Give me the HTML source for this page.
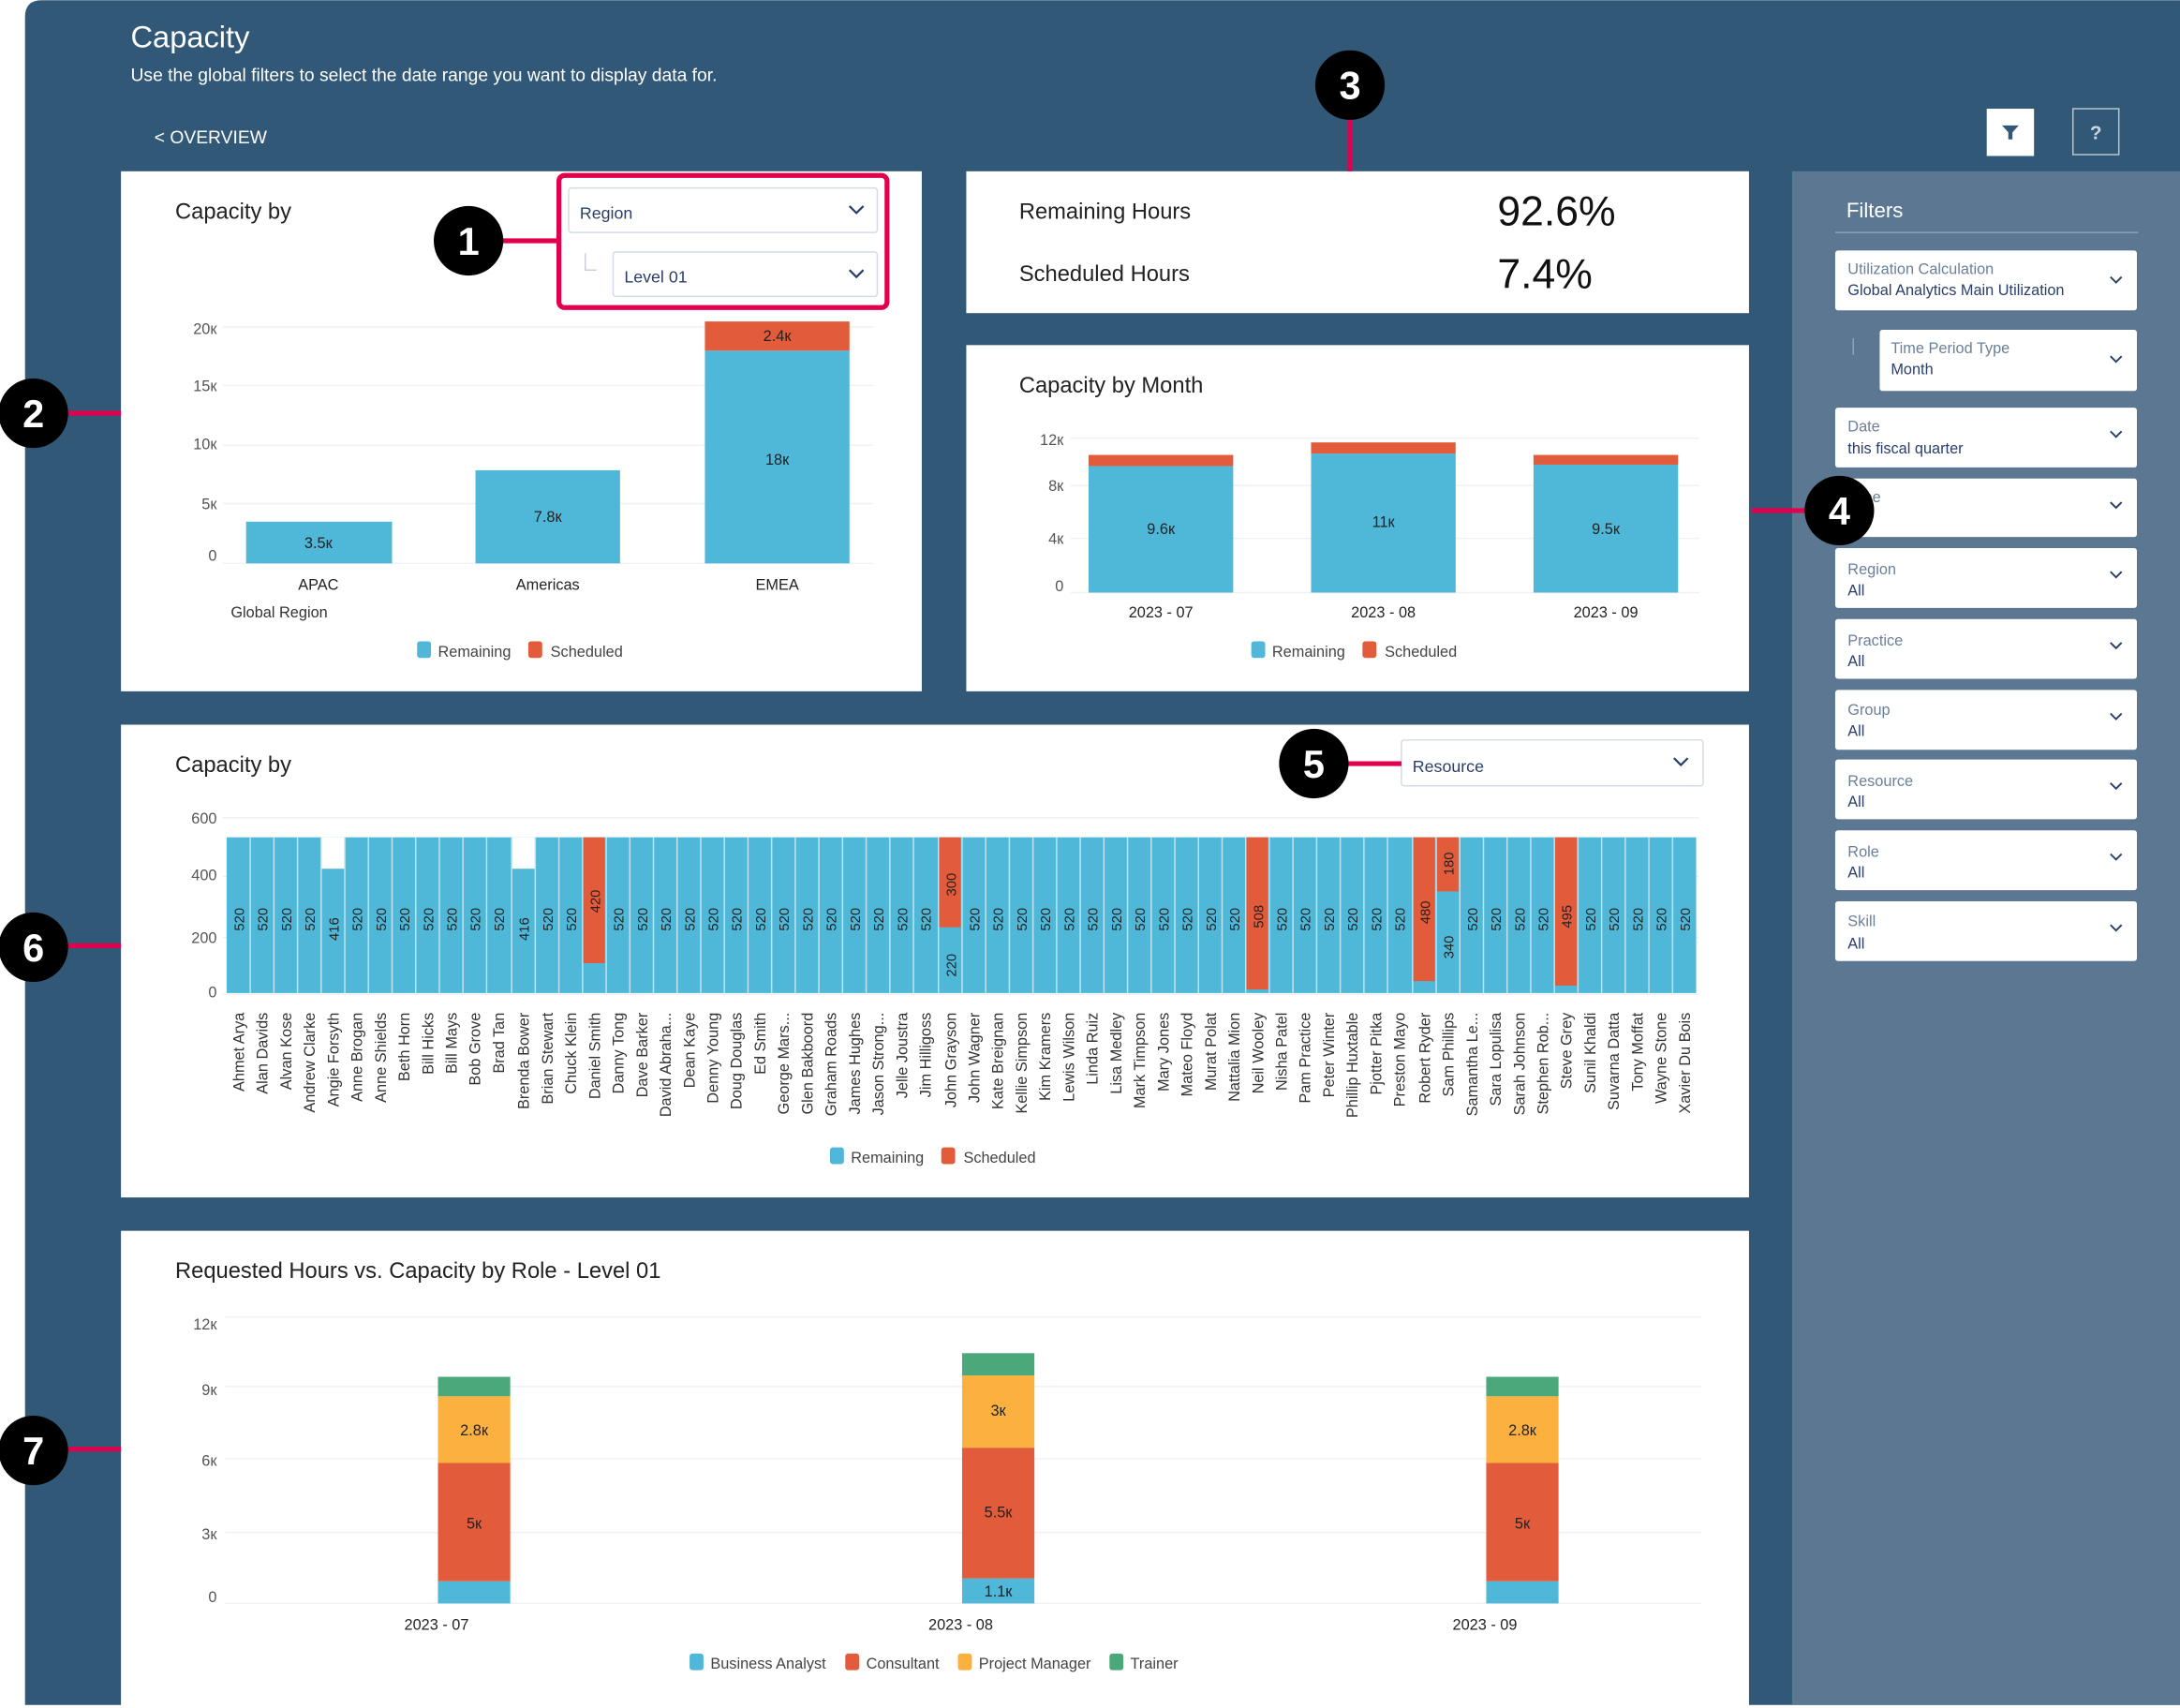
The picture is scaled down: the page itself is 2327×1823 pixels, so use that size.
<!DOCTYPE html>
<html><head><meta charset="utf-8"><style>
html,body{margin:0;padding:0;background:#fff;width:2327px;height:1823px;overflow:hidden}
svg{display:block}
text{font-family:"Liberation Sans",sans-serif}
</style></head><body>
<svg width="2327" height="1823" viewBox="0 0 1568 1228" xmlns="http://www.w3.org/2000/svg">
<rect width="1568" height="1228" fill="#fff"/>
<path d="M18,1226 V12 Q18,0 30,0 H1568 V1226 Z" fill="#325878"/>
<rect x="1289" y="123" width="279" height="1103" fill="#5b7791"/>
<text x="94" y="34" font-size="22" fill="#fff">Capacity</text>
<text x="94" y="58" font-size="13" fill="#fff">Use the global filters to select the date range you want to display data for.</text>
<text x="111" y="103" font-size="13" fill="#fff">&lt; OVERVIEW</text>
<rect x="1429" y="78" width="34" height="34" fill="#fff"/>
<path d="M1440,90 h12 l-4.5,5 v5 h-3 v-5 z" fill="#325878"/>
<rect x="1491" y="78" width="33" height="33" fill="none" stroke="#b8c6d3" stroke-width="1"/>
<text x="1507.5" y="100" font-size="14" font-weight="bold" fill="#cdd7e0" text-anchor="middle">?</text>

<rect x="87" y="123" width="576" height="374" fill="#fff"/>
<text x="126" y="157" font-size="16" fill="#222">Capacity by</text>
<rect x="402" y="126" width="236" height="95" rx="4" fill="none" stroke="#e0004d" stroke-width="3.5"/>
<rect x="409" y="135" width="222" height="32" rx="2" fill="#fff" stroke="#d4dbe5"/>
<text x="417" y="157" font-size="12" fill="#2a3e6a">Region</text>
<path d="M611,148 l5,5 l5,-5" fill="none" stroke="#2a3e6a" stroke-width="1.5"/>
<path d="M421,182 v12 h8" fill="none" stroke="#ccd" stroke-width="1"/>
<rect x="441" y="181" width="190" height="32" rx="2" fill="#fff" stroke="#d4dbe5"/>
<text x="449" y="203" font-size="12" fill="#2a3e6a">Level 01</text>
<path d="M611,194 l5,5 l5,-5" fill="none" stroke="#2a3e6a" stroke-width="1.5"/>
<g stroke="#eef1f5" stroke-width="1">
<line x1="160" y1="235" x2="628" y2="235"/><line x1="160" y1="277" x2="628" y2="277"/><line x1="160" y1="320" x2="628" y2="320"/><line x1="160" y1="362" x2="628" y2="362"/><line x1="160" y1="405" x2="628" y2="405"/></g>
<g font-size="11" fill="#555" text-anchor="end"><text x="156" y="240">20к</text><text x="156" y="281">15к</text><text x="156" y="323">10к</text><text x="156" y="366">5к</text><text x="156" y="403">0</text></g>
<rect x="177" y="375" width="105" height="30" fill="#4fb8d8"/>
<rect x="342" y="338" width="104" height="67" fill="#4fb8d8"/>
<rect x="507" y="252" width="104" height="153" fill="#4fb8d8"/>
<rect x="507" y="231" width="104" height="21" fill="#e25b3a"/>
<g font-size="11" fill="#222" text-anchor="middle"><text x="229" y="394">3.5к</text><text x="394" y="375">7.8к</text><text x="559" y="334">18к</text><text x="559" y="245">2.4к</text>
<text x="229" y="424">APAC</text><text x="394" y="424">Americas</text><text x="559" y="424">EMEA</text></g>
<text x="166" y="444" font-size="11" fill="#333">Global Region</text>
<rect x="300" y="461" width="10" height="12" rx="2" fill="#4fb8d8"/><text x="315" y="472" font-size="11" fill="#444">Remaining</text>
<rect x="380" y="461" width="10" height="12" rx="2" fill="#e25b3a"/><text x="396" y="472" font-size="11" fill="#444">Scheduled</text>

<rect x="695" y="123" width="563" height="102" fill="#fff"/>
<text x="733" y="157" font-size="16" fill="#222">Remaining Hours</text>
<text x="733" y="202" font-size="16" fill="#222">Scheduled Hours</text>
<text x="1077" y="162" font-size="30" fill="#111">92.6%</text>
<text x="1077" y="207" font-size="30" fill="#111">7.4%</text>

<rect x="695" y="248" width="563" height="249" fill="#fff"/>
<text x="733" y="282" font-size="16" fill="#222">Capacity by Month</text>
<g stroke="#eef1f5"><line x1="770" y1="315" x2="1222" y2="315"/><line x1="770" y1="349" x2="1222" y2="349"/><line x1="770" y1="387" x2="1222" y2="387"/><line x1="770" y1="426" x2="1222" y2="426"/></g>
<g font-size="11" fill="#555" text-anchor="end"><text x="765" y="320">12к</text><text x="765" y="353">8к</text><text x="765" y="391">4к</text><text x="765" y="425">0</text></g>
<rect x="783" y="335" width="104" height="91" fill="#4fb8d8"/><rect x="783" y="327" width="104" height="8" fill="#e25b3a"/>
<rect x="943" y="326" width="104" height="100" fill="#4fb8d8"/><rect x="943" y="318" width="104" height="8" fill="#e25b3a"/>
<rect x="1103" y="334" width="104" height="92" fill="#4fb8d8"/><rect x="1103" y="327" width="104" height="7" fill="#e25b3a"/>
<g font-size="11" fill="#222" text-anchor="middle"><text x="835" y="384">9.6к</text><text x="995" y="379">11к</text><text x="1155" y="384">9.5к</text>
<text x="835" y="444">2023 - 07</text><text x="995" y="444">2023 - 08</text><text x="1155" y="444">2023 - 09</text></g>
<rect x="900" y="461" width="10" height="12" rx="2" fill="#4fb8d8"/><text x="915" y="472" font-size="11" fill="#444">Remaining</text>
<rect x="980" y="461" width="10" height="12" rx="2" fill="#e25b3a"/><text x="996" y="472" font-size="11" fill="#444">Scheduled</text>

<rect x="87" y="521" width="1171" height="340" fill="#fff"/>
<text x="126" y="555" font-size="16" fill="#222">Capacity by</text>
<rect x="1008" y="532" width="217" height="33" rx="2" fill="#fff" stroke="#d4dbe5"/>
<text x="1016" y="555" font-size="12" fill="#2a3e6a">Resource</text>
<path d="M1204,545 l5,5 l5,-5" fill="none" stroke="#2a3e6a" stroke-width="1.5"/>
<g stroke="#eef1f5"><line x1="160" y1="588" x2="1222" y2="588"/><line x1="160" y1="630" x2="1222" y2="630"/><line x1="160" y1="674" x2="1222" y2="674"/><line x1="160" y1="715" x2="1222" y2="715"/></g>
<g font-size="11" fill="#555" text-anchor="end"><text x="156" y="592">600</text><text x="156" y="633">400</text><text x="156" y="678">200</text><text x="156" y="717">0</text></g>
<rect x="163" y="602" width="1057" height="112" fill="#4fb8d8"/>
<rect x="231" y="602" width="17" height="22.6" fill="#fff"/>
<rect x="368" y="602" width="17" height="22.6" fill="#fff"/>
<g fill="#e25b3a">
<rect x="419" y="602" width="16" height="90.5"/>
<rect x="675" y="602" width="16" height="64.7"/>
<rect x="896" y="602" width="16" height="109.4"/>
<rect x="1016" y="602" width="16" height="103.4"/>
<rect x="1033" y="602" width="16" height="38.9"/>
<rect x="1118" y="602" width="16" height="106.6"/>
</g>
<g stroke="#bfe4f0" stroke-width="1">
<line x1="180" y1="602" x2="180" y2="714"/><line x1="197" y1="602" x2="197" y2="714"/><line x1="214" y1="602" x2="214" y2="714"/><line x1="231" y1="602" x2="231" y2="714"/><line x1="248" y1="602" x2="248" y2="714"/><line x1="265" y1="602" x2="265" y2="714"/><line x1="282" y1="602" x2="282" y2="714"/><line x1="299" y1="602" x2="299" y2="714"/><line x1="316" y1="602" x2="316" y2="714"/><line x1="333" y1="602" x2="333" y2="714"/><line x1="350" y1="602" x2="350" y2="714"/><line x1="368" y1="602" x2="368" y2="714"/><line x1="385" y1="602" x2="385" y2="714"/><line x1="402" y1="602" x2="402" y2="714"/><line x1="419" y1="602" x2="419" y2="714"/><line x1="436" y1="602" x2="436" y2="714"/><line x1="453" y1="602" x2="453" y2="714"/><line x1="470" y1="602" x2="470" y2="714"/><line x1="487" y1="602" x2="487" y2="714"/><line x1="504" y1="602" x2="504" y2="714"/><line x1="521" y1="602" x2="521" y2="714"/><line x1="538" y1="602" x2="538" y2="714"/><line x1="555" y1="602" x2="555" y2="714"/><line x1="572" y1="602" x2="572" y2="714"/><line x1="589" y1="602" x2="589" y2="714"/><line x1="606" y1="602" x2="606" y2="714"/><line x1="623" y1="602" x2="623" y2="714"/><line x1="640" y1="602" x2="640" y2="714"/><line x1="657" y1="602" x2="657" y2="714"/><line x1="675" y1="602" x2="675" y2="714"/><line x1="692" y1="602" x2="692" y2="714"/><line x1="709" y1="602" x2="709" y2="714"/><line x1="726" y1="602" x2="726" y2="714"/><line x1="743" y1="602" x2="743" y2="714"/><line x1="760" y1="602" x2="760" y2="714"/><line x1="777" y1="602" x2="777" y2="714"/><line x1="794" y1="602" x2="794" y2="714"/><line x1="811" y1="602" x2="811" y2="714"/><line x1="828" y1="602" x2="828" y2="714"/><line x1="845" y1="602" x2="845" y2="714"/><line x1="862" y1="602" x2="862" y2="714"/><line x1="879" y1="602" x2="879" y2="714"/><line x1="896" y1="602" x2="896" y2="714"/><line x1="913" y1="602" x2="913" y2="714"/><line x1="930" y1="602" x2="930" y2="714"/><line x1="947" y1="602" x2="947" y2="714"/><line x1="964" y1="602" x2="964" y2="714"/><line x1="981" y1="602" x2="981" y2="714"/><line x1="998" y1="602" x2="998" y2="714"/><line x1="1016" y1="602" x2="1016" y2="714"/><line x1="1033" y1="602" x2="1033" y2="714"/><line x1="1050" y1="602" x2="1050" y2="714"/><line x1="1067" y1="602" x2="1067" y2="714"/><line x1="1084" y1="602" x2="1084" y2="714"/><line x1="1101" y1="602" x2="1101" y2="714"/><line x1="1118" y1="602" x2="1118" y2="714"/><line x1="1135" y1="602" x2="1135" y2="714"/><line x1="1152" y1="602" x2="1152" y2="714"/><line x1="1169" y1="602" x2="1169" y2="714"/><line x1="1186" y1="602" x2="1186" y2="714"/><line x1="1203" y1="602" x2="1203" y2="714"/>
</g>
<g font-size="10" fill="#222" text-anchor="middle">
<text transform="translate(175.5,661) rotate(-90)">520</text><text transform="translate(192.5,661) rotate(-90)">520</text><text transform="translate(209.5,661) rotate(-90)">520</text><text transform="translate(226.5,661) rotate(-90)">520</text><text transform="translate(243.5,668) rotate(-90)">416</text><text transform="translate(260.5,661) rotate(-90)">520</text><text transform="translate(277.5,661) rotate(-90)">520</text><text transform="translate(294.5,661) rotate(-90)">520</text><text transform="translate(311.5,661) rotate(-90)">520</text><text transform="translate(328.5,661) rotate(-90)">520</text><text transform="translate(345.5,661) rotate(-90)">520</text><text transform="translate(362.5,661) rotate(-90)">520</text><text transform="translate(380.5,668) rotate(-90)">416</text><text transform="translate(397.5,661) rotate(-90)">520</text><text transform="translate(414.5,661) rotate(-90)">520</text><text transform="translate(431.5,648) rotate(-90)">420</text><text transform="translate(448.5,661) rotate(-90)">520</text><text transform="translate(465.5,661) rotate(-90)">520</text><text transform="translate(482.5,661) rotate(-90)">520</text><text transform="translate(499.5,661) rotate(-90)">520</text><text transform="translate(516.5,661) rotate(-90)">520</text><text transform="translate(533.5,661) rotate(-90)">520</text><text transform="translate(550.5,661) rotate(-90)">520</text><text transform="translate(567.5,661) rotate(-90)">520</text><text transform="translate(584.5,661) rotate(-90)">520</text><text transform="translate(601.5,661) rotate(-90)">520</text><text transform="translate(618.5,661) rotate(-90)">520</text><text transform="translate(635.5,661) rotate(-90)">520</text><text transform="translate(652.5,661) rotate(-90)">520</text><text transform="translate(669.5,661) rotate(-90)">520</text><text transform="translate(687.5,636) rotate(-90)">300</text><text transform="translate(687.5,694) rotate(-90)">220</text><text transform="translate(704.5,661) rotate(-90)">520</text><text transform="translate(721.5,661) rotate(-90)">520</text><text transform="translate(738.5,661) rotate(-90)">520</text><text transform="translate(755.5,661) rotate(-90)">520</text><text transform="translate(772.5,661) rotate(-90)">520</text><text transform="translate(789.5,661) rotate(-90)">520</text><text transform="translate(806.5,661) rotate(-90)">520</text><text transform="translate(823.5,661) rotate(-90)">520</text><text transform="translate(840.5,661) rotate(-90)">520</text><text transform="translate(857.5,661) rotate(-90)">520</text><text transform="translate(874.5,661) rotate(-90)">520</text><text transform="translate(891.5,661) rotate(-90)">520</text><text transform="translate(908.5,659) rotate(-90)">508</text><text transform="translate(925.5,661) rotate(-90)">520</text><text transform="translate(942.5,661) rotate(-90)">520</text><text transform="translate(959.5,661) rotate(-90)">520</text><text transform="translate(976.5,661) rotate(-90)">520</text><text transform="translate(993.5,661) rotate(-90)">520</text><text transform="translate(1010.5,661) rotate(-90)">520</text><text transform="translate(1028.5,656) rotate(-90)">480</text><text transform="translate(1045.5,621) rotate(-90)">180</text><text transform="translate(1045.5,681) rotate(-90)">340</text><text transform="translate(1062.5,661) rotate(-90)">520</text><text transform="translate(1079.5,661) rotate(-90)">520</text><text transform="translate(1096.5,661) rotate(-90)">520</text><text transform="translate(1113.5,661) rotate(-90)">520</text><text transform="translate(1130.5,659) rotate(-90)">495</text><text transform="translate(1147.5,661) rotate(-90)">520</text><text transform="translate(1164.5,661) rotate(-90)">520</text><text transform="translate(1181.5,661) rotate(-90)">520</text><text transform="translate(1198.5,661) rotate(-90)">520</text><text transform="translate(1215.5,661) rotate(-90)">520</text>
</g>
<g font-size="11" fill="#333" text-anchor="end">
<text transform="translate(175.5,728) rotate(-90)">Ahmet Arya</text><text transform="translate(192.5,728) rotate(-90)">Alan Davids</text><text transform="translate(209.5,728) rotate(-90)">Alvan Kose</text><text transform="translate(226.5,728) rotate(-90)">Andrew Clarke</text><text transform="translate(243.5,728) rotate(-90)">Angie Forsyth</text><text transform="translate(260.5,728) rotate(-90)">Anne Brogan</text><text transform="translate(277.5,728) rotate(-90)">Anne Shields</text><text transform="translate(294.5,728) rotate(-90)">Beth Horn</text><text transform="translate(311.5,728) rotate(-90)">Bill Hicks</text><text transform="translate(328.5,728) rotate(-90)">Bill Mays</text><text transform="translate(345.5,728) rotate(-90)">Bob Grove</text><text transform="translate(362.5,728) rotate(-90)">Brad Tan</text><text transform="translate(380.5,728) rotate(-90)">Brenda Bower</text><text transform="translate(397.5,728) rotate(-90)">Brian Stewart</text><text transform="translate(414.5,728) rotate(-90)">Chuck Klein</text><text transform="translate(431.5,728) rotate(-90)">Daniel Smith</text><text transform="translate(448.5,728) rotate(-90)">Danny Tong</text><text transform="translate(465.5,728) rotate(-90)">Dave Barker</text><text transform="translate(482.5,728) rotate(-90)">David Abraha...</text><text transform="translate(499.5,728) rotate(-90)">Dean Kaye</text><text transform="translate(516.5,728) rotate(-90)">Denny Young</text><text transform="translate(533.5,728) rotate(-90)">Doug Douglas</text><text transform="translate(550.5,728) rotate(-90)">Ed Smith</text><text transform="translate(567.5,728) rotate(-90)">George Mars...</text><text transform="translate(584.5,728) rotate(-90)">Glen Bakboord</text><text transform="translate(601.5,728) rotate(-90)">Graham Roads</text><text transform="translate(618.5,728) rotate(-90)">James Hughes</text><text transform="translate(635.5,728) rotate(-90)">Jason Strong...</text><text transform="translate(652.5,728) rotate(-90)">Jelle Joustra</text><text transform="translate(669.5,728) rotate(-90)">Jim Hilligoss</text><text transform="translate(687.5,728) rotate(-90)">John Grayson</text><text transform="translate(704.5,728) rotate(-90)">John Wagner</text><text transform="translate(721.5,728) rotate(-90)">Kate Breignan</text><text transform="translate(738.5,728) rotate(-90)">Kellie Simpson</text><text transform="translate(755.5,728) rotate(-90)">Kim Kramers</text><text transform="translate(772.5,728) rotate(-90)">Lewis Wilson</text><text transform="translate(789.5,728) rotate(-90)">Linda Ruiz</text><text transform="translate(806.5,728) rotate(-90)">Lisa Medley</text><text transform="translate(823.5,728) rotate(-90)">Mark Timpson</text><text transform="translate(840.5,728) rotate(-90)">Mary Jones</text><text transform="translate(857.5,728) rotate(-90)">Mateo Floyd</text><text transform="translate(874.5,728) rotate(-90)">Murat Polat</text><text transform="translate(891.5,728) rotate(-90)">Nattalia Mion</text><text transform="translate(908.5,728) rotate(-90)">Neil Wooley</text><text transform="translate(925.5,728) rotate(-90)">Nisha Patel</text><text transform="translate(942.5,728) rotate(-90)">Pam Practice</text><text transform="translate(959.5,728) rotate(-90)">Peter Winter</text><text transform="translate(976.5,728) rotate(-90)">Phillip Huxtable</text><text transform="translate(993.5,728) rotate(-90)">Pjotter Pitka</text><text transform="translate(1010.5,728) rotate(-90)">Preston Mayo</text><text transform="translate(1028.5,728) rotate(-90)">Robert Ryder</text><text transform="translate(1045.5,728) rotate(-90)">Sam Phillips</text><text transform="translate(1062.5,728) rotate(-90)">Samantha Le...</text><text transform="translate(1079.5,728) rotate(-90)">Sara Lopulisa</text><text transform="translate(1096.5,728) rotate(-90)">Sarah Johnson</text><text transform="translate(1113.5,728) rotate(-90)">Stephen Rob...</text><text transform="translate(1130.5,728) rotate(-90)">Steve Grey</text><text transform="translate(1147.5,728) rotate(-90)">Sunil Khaldi</text><text transform="translate(1164.5,728) rotate(-90)">Suvarna Datta</text><text transform="translate(1181.5,728) rotate(-90)">Tony Moffat</text><text transform="translate(1198.5,728) rotate(-90)">Wayne Stone</text><text transform="translate(1215.5,728) rotate(-90)">Xavier Du Bois</text>
</g>
<rect x="597" y="825" width="10" height="12" rx="2" fill="#4fb8d8"/><text x="612" y="836" font-size="11" fill="#444">Remaining</text>
<rect x="677" y="825" width="10" height="12" rx="2" fill="#e25b3a"/><text x="693" y="836" font-size="11" fill="#444">Scheduled</text>

<rect x="87" y="885" width="1171" height="343" fill="#fff"/>
<text x="126" y="919" font-size="16" fill="#222">Requested Hours vs. Capacity by Role - Level 01</text>
<g stroke="#eef1f5"><line x1="162" y1="947" x2="1224" y2="947"/><line x1="162" y1="997" x2="1224" y2="997"/><line x1="162" y1="1049" x2="1224" y2="1049"/><line x1="162" y1="1102" x2="1224" y2="1102"/><line x1="162" y1="1153" x2="1224" y2="1153"/></g>
<g font-size="11" fill="#555" text-anchor="end"><text x="156" y="956">12к</text><text x="156" y="1003">9к</text><text x="156" y="1054">6к</text><text x="156" y="1107">3к</text><text x="156" y="1152">0</text></g>
<g>
<rect x="315" y="1137" width="52" height="16" fill="#4fb8d8"/><rect x="315" y="1052" width="52" height="85" fill="#e25b3a"/><rect x="315" y="1004" width="52" height="48" fill="#fbb040"/><rect x="315" y="990" width="52" height="14" fill="#4aa87a"/>
<rect x="692" y="1135" width="52" height="18" fill="#4fb8d8"/><rect x="692" y="1041" width="52" height="94" fill="#e25b3a"/><rect x="692" y="989" width="52" height="52" fill="#fbb040"/><rect x="692" y="973" width="52" height="16" fill="#4aa87a"/>
<rect x="1069" y="1137" width="52" height="16" fill="#4fb8d8"/><rect x="1069" y="1052" width="52" height="85" fill="#e25b3a"/><rect x="1069" y="1004" width="52" height="48" fill="#fbb040"/><rect x="1069" y="990" width="52" height="14" fill="#4aa87a"/>
</g>
<g font-size="11" fill="#222" text-anchor="middle"><text x="341" y="1032">2.8к</text><text x="341" y="1099">5к</text><text x="718" y="1018">3к</text><text x="718" y="1091">5.5к</text><text x="718" y="1148">1.1к</text><text x="1095" y="1032">2.8к</text><text x="1095" y="1099">5к</text>
<text x="314" y="1172">2023 - 07</text><text x="691" y="1172">2023 - 08</text><text x="1068" y="1172">2023 - 09</text></g>
<g font-size="11" fill="#444">
<rect x="496" y="1189" width="10" height="12" rx="2" fill="#4fb8d8"/><text x="511" y="1200">Business Analyst</text>
<rect x="608" y="1189" width="10" height="12" rx="2" fill="#e25b3a"/><text x="623" y="1200">Consultant</text>
<rect x="689" y="1189" width="10" height="12" rx="2" fill="#fbb040"/><text x="704" y="1200">Project Manager</text>
<rect x="798" y="1189" width="10" height="12" rx="2" fill="#4aa87a"/><text x="813" y="1200">Trainer</text>
</g>

<text x="1328" y="156" font-size="15" fill="#fff">Filters</text>
<line x1="1320" y1="167" x2="1538" y2="167" stroke="#8ea3b6"/>
<g font-size="11">
<rect x="1320" y="180" width="217" height="43" rx="2" fill="#fff"/><text x="1329" y="197" fill="#6b7f99">Utilization Calculation</text><text x="1329" y="212" fill="#2a3e6a">Global Analytics Main Utilization</text>
<line x1="1333" y1="243" x2="1333" y2="255" stroke="#8ea3b6"/>
<rect x="1352" y="237" width="185" height="44" rx="2" fill="#fff"/><text x="1360" y="254" fill="#6b7f99">Time Period Type</text><text x="1360" y="269" fill="#2a3e6a">Month</text>
<rect x="1320" y="293" width="217" height="43" rx="2" fill="#fff"/><text x="1329" y="310" fill="#6b7f99">Date</text><text x="1329" y="326" fill="#2a3e6a">this fiscal quarter</text>
<rect x="1320" y="344" width="217" height="42" rx="2" fill="#fff"/><text x="1329" y="361" fill="#6b7f99">Type</text>
<rect x="1320" y="394" width="217" height="43" rx="2" fill="#fff"/><text x="1329" y="413" fill="#6b7f99">Region</text><text x="1329" y="428" fill="#2a3e6a">All</text>
<rect x="1320" y="445" width="217" height="43" rx="2" fill="#fff"/><text x="1329" y="464" fill="#6b7f99">Practice</text><text x="1329" y="479" fill="#2a3e6a">All</text>
<rect x="1320" y="496" width="217" height="43" rx="2" fill="#fff"/><text x="1329" y="514" fill="#6b7f99">Group</text><text x="1329" y="529" fill="#2a3e6a">All</text>
<rect x="1320" y="546" width="217" height="43" rx="2" fill="#fff"/><text x="1329" y="565" fill="#6b7f99">Resource</text><text x="1329" y="580" fill="#2a3e6a">All</text>
<rect x="1320" y="597" width="217" height="43" rx="2" fill="#fff"/><text x="1329" y="616" fill="#6b7f99">Role</text><text x="1329" y="631" fill="#2a3e6a">All</text>
<rect x="1320" y="648" width="217" height="43" rx="2" fill="#fff"/><text x="1329" y="666" fill="#6b7f99">Skill</text><text x="1329" y="682" fill="#2a3e6a">All</text>
</g>
<g fill="none" stroke="#2a3e6a" stroke-width="1.3">
<path d="M1518,199 l4,4 l4,-4"/><path d="M1518,256 l4,4 l4,-4"/><path d="M1518,310 l4,4 l4,-4"/><path d="M1518,361 l4,4 l4,-4"/><path d="M1518,411 l4,4 l4,-4"/><path d="M1518,462 l4,4 l4,-4"/><path d="M1518,513 l4,4 l4,-4"/><path d="M1518,563 l4,4 l4,-4"/><path d="M1518,614 l4,4 l4,-4"/><path d="M1518,665 l4,4 l4,-4"/>
</g>

<g stroke="#e0004d" stroke-width="3.5">
<line x1="360" y1="173" x2="402" y2="173"/>
<line x1="48" y1="297" x2="87" y2="297"/>
<line x1="971" y1="85" x2="971" y2="123"/>
<line x1="1260" y1="367" x2="1300" y2="367"/>
<line x1="968" y1="549" x2="1008" y2="549"/>
<line x1="48" y1="680" x2="87" y2="680"/>
<line x1="48" y1="1042" x2="87" y2="1042"/>
</g>
<g fill="#000"><circle cx="337" cy="173" r="25"/><circle cx="24" cy="297" r="25"/><circle cx="971" cy="61" r="25"/><circle cx="1323" cy="367" r="25"/><circle cx="945" cy="549" r="25"/><circle cx="24" cy="681" r="25"/><circle cx="24" cy="1043" r="25"/></g>
<g fill="#fff" font-size="28" font-weight="bold" text-anchor="middle">
<text x="337" y="183">1</text><text x="24" y="307">2</text><text x="971" y="71">3</text><text x="1323" y="377">4</text><text x="945" y="559">5</text><text x="24" y="691">6</text><text x="24" y="1053">7</text></g>
</svg>
</body></html>
